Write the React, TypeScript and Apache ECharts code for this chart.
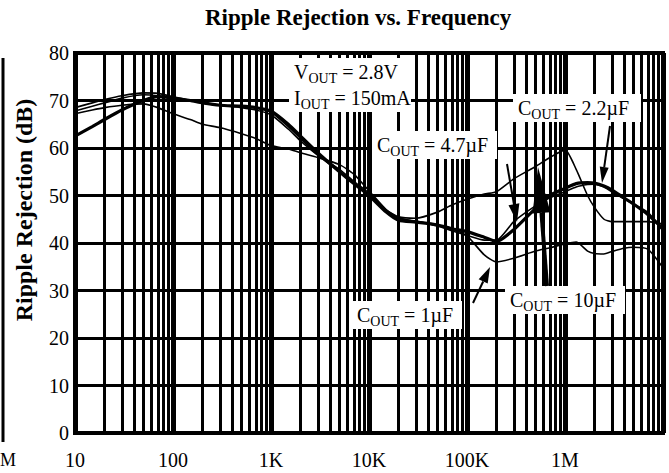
import React, { useEffect, useRef } from 'react';
import * as echarts from 'echarts';

// Frequencies (Hz) at which the curves were read
const freqs = [10, 15, 20, 30, 50, 70, 100, 150, 200, 300, 500, 700, 1e3, 1.5e3, 2e3, 3e3, 5e3, 7e3, 1e4, 1.5e4, 2e4, 3e4, 5e4, 7e4, 1e5, 1.5e5, 2e5, 3e5, 5e5, 7e5, 1e6, 1.3e6, 1.7e6, 2e6, 2.5e6, 3e6, 4e6, 5e6, 7e6, 1e7];

// Ripple rejection (dB)
const cout22 = [62.5, 64.5, 66, 68, 70, 70.8, 70.5, 70, 69.5, 69, 68.8, 68.5, 67.8, 65, 62.5, 59, 55, 52.5, 50, 46.5, 44.8, 44.4, 43.8, 43, 42.4, 41.2, 40.3, 42.8, 47.3, 50, 51.5, 52.5, 52.7, 52.6, 52, 51.2, 49.5, 48.2, 46, 43];
const cout47 = [68.5, 69.5, 70.2, 71, 71.6, 71.5, 70.8, 70, 69.5, 69, 68.8, 68.5, 67.5, 64.5, 62, 58.5, 55, 52.5, 50, 46.8, 45.2, 44.6, 43.6, 42.6, 41.6, 40.6, 40.6, 44.5, 47.8, 49.5, 50.8, 51.8, 52.3, 52.4, 51.8, 50.8, 49.3, 48.2, 46.5, 42.5];
const cout10 = [67.8, 68.8, 69.5, 70.5, 71.2, 71, 70.5, 70, 69.5, 69, 68.5, 68, 67, 64, 61.5, 58.5, 55.5, 53, 50.5, 47, 45.5, 45.2, 46.5, 48, 49.2, 50.3, 50.8, 53.5, 56.1, 58, 59.6, 55.5, 50, 47.5, 45, 44.5, 44.5, 44.5, 44.5, 44];
const cout1 = [67.2, 68, 68.5, 69, 69.3, 68.5, 67.2, 66, 65, 64.3, 63, 62, 60.5, 59.8, 59, 58, 56.5, 54.5, 51, 47, 45.3, 44.5, 43.8, 43, 41.5, 37.5, 36, 36.8, 38.3, 39, 39.8, 40.2, 38.3, 37.8, 37.7, 38.2, 38.9, 39.1, 38.7, 34.8];

// Axis tick labels
const xTickValues = [10, 100, 1e3, 1e4, 1e5, 1e6, 1e7];
const xTickLabels = ['10', '100', '1K', '10K', '100K', '1M', ''];

const FONT = 'Liberation Serif';

function arrow(x1: number, y1: number, x2: number, y2: number, headLen: number, headHalf: number, lw: number) {
  const dx = x2 - x1, dy = y2 - y1;
  const L = Math.hypot(dx, dy);
  const ux = dx / L, uy = dy / L;
  const bx = x2 - ux * headLen, by = y2 - uy * headLen;
  const px = -uy, py = ux;
  return [
    { type: 'line', zlevel: 1, z: 30, shape: { x1, y1, x2: bx, y2: by }, style: { stroke: '#000', lineWidth: lw } },
    {
      type: 'polygon', zlevel: 1, z: 30,
      shape: { points: [[x2, y2], [bx + px * headHalf, by + py * headHalf], [bx - px * headHalf, by - py * headHalf]] },
      style: { fill: '#000' },
    },
  ];
}

const rich = {
  m: { fontSize: 20, fontFamily: FONT, lineHeight: 26, color: '#000' },
  s: { fontSize: 14, fontFamily: FONT, lineHeight: 12, verticalAlign: 'bottom', color: '#000' },
};

// white box [x, y, w, h] + text
function label(box: number[], text: string) {
  return [
    { type: 'rect', zlevel: 1, z: 5, shape: { x: box[0], y: box[1], width: box[2], height: box[3] }, style: { fill: '#fff', stroke: null } },
    {
      type: 'text', zlevel: 1, z: 6, x: box[0] + 5, y: box[1] + 1,
      style: { text, rich, align: 'left', verticalAlign: 'top' },
    },
  ];
}

export default function App() {
  const ref = useRef<HTMLDivElement>(null);
  useEffect(() => {
    const chart = echarts.init(ref.current!, null, { renderer: 'svg' });
    const minorTicks: number[] = [];
    for (let d = 10; d < 1e7; d *= 10) for (let k = 2; k <= 9; k++) minorTicks.push(k * d);

    const mk = (name: string, vals: number[], width: number) => ({
      type: 'line', name, silent: true, z: 10,
      data: freqs.map((f, i) => [f, vals[i]]),
      symbol: 'none', smooth: 0.2,
      lineStyle: { color: '#000', width },
    });

    chart.setOption({
      animation: false,
      backgroundColor: '#fff',
      title: {
        text: 'Ripple Rejection vs. Frequency',
        left: 205, top: 6, padding: 0,
        textStyle: { fontFamily: FONT, fontSize: 23, fontWeight: 'bold', color: '#000' },
      },
      grid: { left: 75, right: 6, top: 53, bottom: 40, show: true, borderColor: '#000', borderWidth: 4, backgroundColor: 'transparent' },
      xAxis: {
        type: 'log', logBase: 10, min: 10, max: 1e7,
        axisLine: { show: false }, axisTick: { show: false },
        splitLine: { show: true, lineStyle: { color: '#000', width: 5 } },
        axisLabel: {
          margin: 17, color: '#000', fontFamily: FONT, fontSize: 20,
          formatter: (v: number) => {
            const i = xTickValues.findIndex((t) => Math.abs(Math.log10(t) - Math.log10(v)) < 1e-6);
            return i >= 0 ? xTickLabels[i] : '';
          },
        },
      },
      yAxis: {
        type: 'value', min: 0, max: 80, interval: 10,
        axisLine: { show: false }, axisTick: { show: false },
        splitLine: { show: true, lineStyle: { color: '#000', width: 3 } },
        axisLabel: { margin: 6, color: '#000', fontFamily: FONT, fontSize: 20 },
      },
      series: [
        {
          type: 'line', data: [], z: 1, silent: true,
          markLine: {
            silent: true, symbol: ['none', 'none'], label: { show: false },
            lineStyle: { color: '#000', width: 3, type: 'solid' },
            data: minorTicks.map((v) => ({ xAxis: v })),
          },
        },
        mk('COUT = 1µF', cout1, 1.6),
        mk('COUT = 10µF', cout10, 1.6),
        mk('COUT = 4.7µF', cout47, 1.6),
        mk('COUT = 2.2µF', cout22, 3.2),
      ],
      graphic: [
        {
          type: 'text', z: 5, x: 24, y: 210, rotation: Math.PI / 2,
          style: { text: 'Ripple Rejection (dB)', fontFamily: FONT, fontSize: 24, fontWeight: 'bold', fill: '#000', align: 'center', verticalAlign: 'middle' },
        },
        { type: 'line', z: 5, shape: { x1: 3, y1: 58, x2: 3, y2: 442 }, style: { stroke: '#000', lineWidth: 3 } },
        { type: 'text', z: 5, x: 0, y: 451, style: { text: 'M', fontFamily: FONT, fontSize: 18, fill: '#000' } },
        ...label([289, 58, 122, 54], '{m|V}{s|OUT}{m| = 2.8V}\n{m|I}{s|OUT}{m| = 150mA}'),
        ...label([513, 94, 128, 28], '{m|C}{s|OUT}{m| = 2.2µF}'),
        ...label([372, 131, 125, 28], '{m|C}{s|OUT}{m| = 4.7µF}'),
        ...label([505, 286, 120, 28], '{m|C}{s|OUT}{m| = 10µF}'),
        ...label([352, 301, 110, 28], '{m|C}{s|OUT}{m| = 1µF}'),
        ...arrow(610, 126, 602, 183, 16, 4.5, 2),
        ...arrow(507, 164, 517, 222, 18, 5.5, 2),
        ...arrow(547, 286, 538, 167, 46, 9, 4),
        ...arrow(473, 303, 490, 267, 16, 5, 2),
      ],
    });
    return () => chart.dispose();
  }, []);
  return <div ref={ref} style={{ position: 'fixed', left: 0, top: 0, width: 669, height: 473 }} />;
}
